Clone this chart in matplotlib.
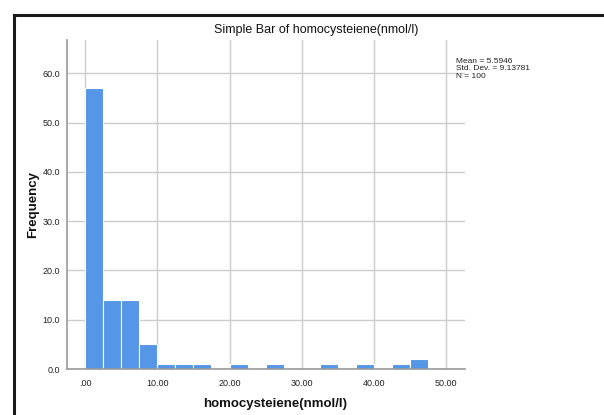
import matplotlib
matplotlib.use("Agg")
import matplotlib.pyplot as plt
from matplotlib.lines import Line2D
import numpy as np

# Histogram of homocysteiene, bin width 2.5
bin_edges = [0.0, 2.5, 5.0, 7.5, 10.0, 12.5, 15.0, 17.5, 20.0, 22.5, 25.0,
             27.5, 30.0, 32.5, 35.0, 37.5, 40.0, 42.5, 45.0, 47.5]
frequencies = [57, 14, 14, 5, 1, 1, 1, 0, 1, 0, 1, 0, 0, 1, 0, 1, 0, 1, 2]
x_ticks = [0, 10, 20, 30, 40, 50]
x_tick_labels = [".00", "10.00", "20.00", "30.00", "40.00", "50.00"]
y_ticks = [0, 10, 20, 30, 40, 50, 60]
y_tick_labels = ["0.0", "10.0", "20.0", "30.0", "40.0", "50.0", "60.0"]
stats_lines = ["Mean = 5.5946", "Std. Dev. = 9.13781", "N = 100"]

plt.rcParams['font.family'] = ['Liberation Sans', 'DejaVu Sans']

W, H = 604, 415
fig = plt.figure(figsize=(W / 100, H / 100), dpi=100)

# outer frame (left and top edges)
fig.add_artist(Line2D([14 / W, 14 / W], [0, 1 - 15 / H], transform=fig.transFigure,
                      color='#1a1a1a', lw=2.2))
fig.add_artist(Line2D([14 / W, 1], [1 - 15 / H, 1 - 15 / H], transform=fig.transFigure,
                      color='#1a1a1a', lw=2.2))

left, right, top, bottom = 67, 465, 40, 369
ax = fig.add_axes([left / W, 1 - bottom / H, (right - left) / W, (bottom - top) / H])

edges = np.asarray(bin_edges)
freq = np.asarray(frequencies)
widths = np.diff(edges)
nonempty = freq > 0
ax.bar(edges[:-1][nonempty], freq[nonempty], width=widths[nonempty], align='edge',
       color='#5596E6', edgecolor='white', linewidth=0.8, zorder=2)

ax.set_xlim(-2.5, 52.6)
ax.set_ylim(0, 66.8)
ax.set_xticks(x_ticks)
ax.set_xticklabels(x_tick_labels)
ax.set_yticks(y_ticks)
ax.set_yticklabels(y_tick_labels)
ax.tick_params(axis='both', length=0, labelsize=6.5, colors='#222222')
ax.tick_params(axis='x', pad=7)
ax.tick_params(axis='y', pad=5)

ax.grid(True, color='#cccccc', linewidth=1.0, zorder=0)
ax.set_axisbelow(True)
for s in ['top', 'right']:
    ax.spines[s].set_visible(False)
for s in ['left', 'bottom']:
    ax.spines[s].set_color('#999999')
    ax.spines[s].set_linewidth(1.2)
    ax.spines[s].set_zorder(3)

fig.text(316 / W, 1 - 30 / H, "Simple Bar of homocysteiene(nmol/l)",
         ha='center', va='center', fontsize=9, color='#111111')
fig.text(275 / W, 1 - 404 / H, "homocysteiene(nmol/l)", ha='center', va='center',
         fontsize=9.5, fontweight='bold', color='#111111')
fig.text(33 / W, 1 - 205 / H, "Frequency", ha='center', va='center', rotation=90,
         fontsize=9.5, fontweight='bold', color='#111111')
fig.text(456 / W, 1 - 69 / H, "\n".join(stats_lines), ha='left', va='center',
         fontsize=6, linespacing=1.1, color='#222222')

fig.savefig("out.png", dpi=100)
